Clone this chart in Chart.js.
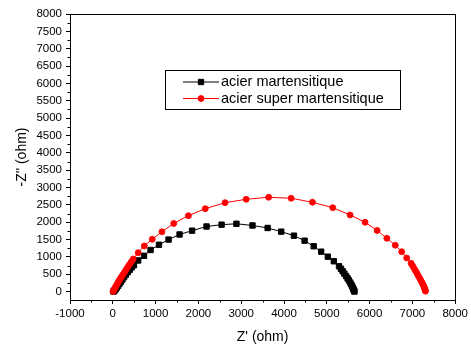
<!DOCTYPE html>
<html>
<head>
<meta charset="utf-8">
<script src="https://cdn.jsdelivr.net/npm/chart.js@4/dist/chart.umd.min.js"></script>
<style>
html,body{margin:0;padding:0;background:#fff;}
#wrap{width:471px;height:348px;position:relative;}
</style>
</head>
<body>
<div id="wrap"><canvas id="c" width="471" height="348"></canvas></div>
<script>
// ---- data ----
const seriesNames = ["acier martensitique", "acier super martensitique"];

const blackX = [15,30,50,70,95,125,155,190,225,265,305,350,395,440,493,
  593,729,882,1079,1303,1560,1852,2190,2542,2889,3264,3618,3935,4231,4481,4694,4868,5023,5164,5285,
  5330,5370,5410,5450,5485,5515,5545,5570,5590,5608,5622,5632,5640,5645];
const blackY = [5,20,45,80,120,170,225,285,350,420,490,560,630,700,761,
  899,1034,1201,1351,1501,1648,1757,1878,1930,1956,1907,1835,1729,1613,1469,1308,1152,1008,876,732,
  660,590,520,450,385,325,265,210,160,115,75,45,20,5];

const redX = [5,15,30,48,68,90,115,140,170,200,235,270,305,345,385,430,
  477,593,736,921,1148,1424,1766,2160,2623,3116,3641,4167,4664,5139,5544,5894,6176,6403,6600,6750,6866,6970,
  7005,7040,7075,7110,7140,7170,7200,7225,7248,7266,7281,7292,7300,7305];
const redY = [5,25,60,100,145,195,250,305,365,425,490,555,625,700,775,855,
  942,1124,1317,1510,1726,1965,2190,2391,2564,2662,2720,2691,2576,2420,2210,1999,1763,1538,1337,1152,971,818,
  745,670,595,520,450,385,320,260,205,155,110,72,40,15];

const xTicks = [-1000,0,1000,2000,3000,4000,5000,6000,7000,8000];
const yTicks = [0,500,1000,1500,2000,2500,3000,3500,4000,4500,5000,5500,6000,6500,7000,7500,8000];
const xMinor = [-500,500,1500,2500,3500,4500,5500,6500,7500];
const yMinor = [250,750,1250,1750,2250,2750,3250,3750,4250,4750,5250,5750,6250,6750,7250,7750];

const FONT = "'Liberation Sans', Arial, Helvetica, sans-serif";

function pts(xs, ys){ return xs.map((x,i)=>({x:x, y:ys[i]})); }

const framePlugin = {
  id:'frame',
  afterDraw(chart){
    const ctx = chart.ctx, a = chart.chartArea;
    const xs = chart.scales.x, ys = chart.scales.y;
    ctx.save();
    ctx.strokeStyle = '#000';
    ctx.lineWidth = 1;
    ctx.strokeRect(Math.round(a.left)+0.5, Math.round(a.top)+0.5, Math.round(a.right-a.left), Math.round(a.bottom-a.top));
    // minor ticks
    ctx.beginPath();
    xMinor.forEach(v=>{
      const px = Math.round(xs.getPixelForValue(v))+0.5;
      ctx.moveTo(px, a.bottom); ctx.lineTo(px, a.bottom+2.5);
    });
    yMinor.forEach(v=>{
      const py = Math.round(ys.getPixelForValue(v))+0.5;
      ctx.moveTo(a.left, py); ctx.lineTo(a.left-2.5, py);
    });
    ctx.stroke();

    // legend box
    const bx = 165.5, by = 70.5, bw = 235, bh = 39;
    ctx.fillStyle = '#fff';
    ctx.fillRect(bx, by, bw, bh);
    ctx.strokeStyle = '#000';
    ctx.strokeRect(bx, by, bw, bh);
    const rows = [82, 98.5];
    chart.data.datasets.forEach((ds, i)=>{
      const y = rows[i];
      ctx.strokeStyle = ds.borderColor;
      ctx.lineWidth = 1;
      ctx.beginPath(); ctx.moveTo(183, y); ctx.lineTo(219, y); ctx.stroke();
      ctx.fillStyle = ds.pointBackgroundColor;
      ctx.strokeStyle = ds.pointBorderColor;
      ctx.lineWidth = ds.pointBorderWidth;
      Chart.helpers.drawPoint(ctx, {
        pointStyle: ds.pointStyle, radius: ds.pointRadius, borderWidth: ds.pointBorderWidth, rotation: 0
      }, 201, y);
      ctx.fillStyle = '#000';
      ctx.font = "14.5px " + FONT;
      ctx.textBaseline = 'middle';
      ctx.textAlign = 'left';
      ctx.fillText(ds.label, 221, y);
    });
    ctx.restore();
  }
};

const chart = new Chart(document.getElementById('c'), {
  type: 'scatter',
  data: {
    datasets: [
      {
        label: seriesNames[0],
        data: pts(blackX, blackY),
        showLine: true,
        borderColor: '#000',
        borderWidth: 1,
        pointStyle: 'rect',
        pointRadius: 3.8,
        pointBorderWidth: 1,
        pointBackgroundColor: '#000',
        pointBorderColor: '#000',
        order: 1
      },
      {
        label: seriesNames[1],
        data: pts(redX, redY),
        showLine: true,
        borderColor: '#ff0000',
        borderWidth: 1,
        pointStyle: 'circle',
        pointRadius: 3,
        pointBorderWidth: 0.8,
        pointBackgroundColor: '#ff0000',
        pointBorderColor: '#ff0000',
        order: 0
      }
    ]
  },
  options: {
    responsive: false,
    animation: false,
    events: [],
    layout: { padding: { top: 14, right: 13, left: 0, bottom: 0 } },
    plugins: { legend: { display: false }, tooltip: { enabled: false } },
    scales: {
      x: {
        type: 'linear',
        min: -1000, max: 8000,
        afterFit(s){ s.height = 48; },
        afterBuildTicks(s){ s.ticks = xTicks.map(v=>({value:v})); },
        ticks: { color:'#000', font:{ family: FONT, size: 11.5 }, padding: 3, maxRotation: 0, autoSkip: false,
                 callback: v => String(v) },
        grid: { display: true, drawOnChartArea: false, drawTicks: true, tickLength: 4, color: '#000', tickColor:'#000' },
        border: { display: true, color: '#000', width: 1 },
        title: { display: true, text: "Z' (ohm)", color:'#000', font:{ family: FONT, size: 14 }, padding: { top: 0, bottom: 2 } }
      },
      y: {
        type: 'linear',
        min: -240, max: 8000,
        afterFit(s){ s.width = 70; },
        afterBuildTicks(s){ s.ticks = yTicks.map(v=>({value:v})); },
        ticks: { color:'#000', font:{ family: FONT, size: 11.5 }, padding: 4, autoSkip: false,
                 callback: v => String(v) },
        grid: { display: true, drawOnChartArea: false, drawTicks: true, tickLength: 4, color: '#000', tickColor:'#000' },
        border: { display: true, color: '#000', width: 1 },
        title: { display: true, text: "-Z'' (ohm)", color:'#000', font:{ family: FONT, size: 14 }, padding: { top: 14, bottom: 0 } }
      }
    }
  },
  plugins: [framePlugin]
});
</script>
</body>
</html>
